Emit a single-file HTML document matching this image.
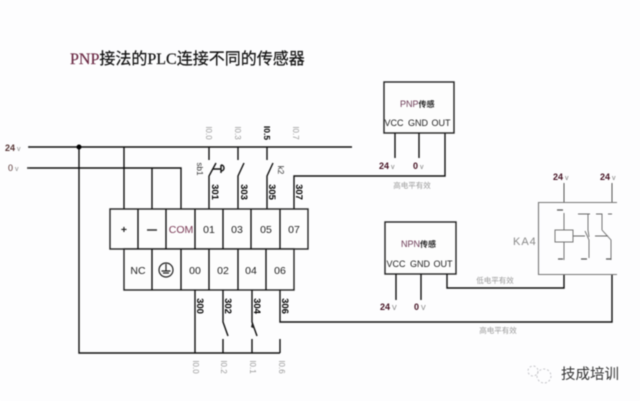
<!DOCTYPE html>
<html>
<head>
<meta charset="utf-8">
<style>
html,body{margin:0;padding:0;background:#fdfdfe;width:640px;height:401px;overflow:hidden}
svg{display:block;filter:blur(.5px)}
text{font-family:"Liberation Sans","Noto Sans CJK SC",sans-serif}
.l{stroke:#111;stroke-width:1.4;fill:none}
.b{stroke:#222;stroke-width:1.4;fill:#fdfdfd}
.t{font-size:10.5px;fill:#222;text-anchor:middle}
.w{font-size:9.5px;font-weight:bold;fill:#000;text-anchor:middle}
.io{font-size:8px;fill:#999;text-anchor:middle}
.s{font-size:9px;fill:#222;text-anchor:middle}
.v{font-size:9px;font-weight:bold;fill:#412}
.n{font-size:7.5px;fill:#999;text-anchor:middle}
</style>
</head>
<body>
<svg width="640" height="401" viewBox="0 0 640 401" xmlns="http://www.w3.org/2000/svg">
<rect width="640" height="401" fill="#fdfdfe"/>

<text x="70" y="64" font-size="16" fill="#111" stroke="#111" stroke-width=".2" style="font-family:'Liberation Serif','Noto Sans CJK SC',serif"><tspan fill="#6b2a45" stroke="#6b2a45">PNP</tspan>接法的PLC连接不同的传感器</text>

<!-- power rails -->
<path class="l" d="M29 147H352M29 168H181V209M79 147V353H280M124 147V209M152 168V209"/>
<circle cx="79" cy="147" r="2.500" fill="#000"/>
<circle cx="29" cy="147" r="1" fill="#333"/>
<circle cx="28" cy="168" r="1" fill="#333"/>
<text x="5" y="151" font-size="9" font-weight="bold" fill="#533">24<tspan font-weight="normal" fill="#888" font-size="7"> v</tspan></text>
<text x="8" y="171" font-size="9" fill="#533">0<tspan fill="#888" font-size="7"> v</tspan></text>

<!-- upper wires and switches -->
<path class="l" d="M209 147V160M209 209V176L216 163M238 147V160M238 209V176L244 163M267 147V160M267 209V176L273 163M294 209V176H445V133"/>
<path class="l" d="M213 169H221M221 165V173" stroke-width="1"/>
<path class="l" d="M221 165C225 165 225 171 221 171" stroke-width="1"/>

<!-- terminals -->
<g class="b">
<rect x="110" y="209" width="198" height="40"/>
<rect x="124" y="249" width="170" height="41"/>
</g>
<path class="l" d="M138 209V249M166 209V249M195 209V249M223 209V249M251 209V249M280 209V249M152 249V290M181 249V290M209 249V290M238 249V290M266 249V290" stroke="#333"/>
<text class="t" x="124" y="233" font-weight="bold">+</text>
<path d="M147 230H157" stroke="#333" stroke-width="1.5"/>
<text class="t" x="181" y="233" style="fill:#7a3a55">COM</text>
<text class="t" x="209" y="233">01</text>
<text class="t" x="237" y="233">03</text>
<text class="t" x="266" y="233">05</text>
<text class="t" x="294" y="233">07</text>
<text class="t" x="138" y="274">NC</text>
<circle cx="166" cy="270" r="7" fill="none" stroke="#222" stroke-width="1.2"/>
<path d="M166 264V271M161.500 271H170.500M163 273H169" stroke="#222" stroke-width="1.2"/>
<text class="t" x="195" y="274">00</text>
<text class="t" x="223" y="274">02</text>
<text class="t" x="251" y="274">04</text>
<text class="t" x="280" y="274">06</text>

<!-- lower wires -->
<path class="l" d="M195 290V353M223 290V322L228 336M223 339V353M252 290V322L257 336M252 339V353M280 290V322H612V274M280 339V353"/>
<path d="M252 323L255 329L251 327Z" fill="#222"/>

<!-- wire numbers -->
<text class="w" transform="translate(212,192) rotate(90)">301</text>
<text class="w" transform="translate(241,192) rotate(90)">303</text>
<text class="w" transform="translate(269,192) rotate(90)">305</text>
<text class="w" transform="translate(296,192) rotate(90)">307</text>
<text class="w" transform="translate(197,306) rotate(90)">300</text>
<text class="w" transform="translate(225,306) rotate(90)">302</text>
<text class="w" transform="translate(254,306) rotate(90)">304</text>
<text class="w" transform="translate(282,306) rotate(90)">306</text>

<text class="io" transform="translate(206,133) rotate(90)">I0.0</text>
<text class="io" transform="translate(235,133) rotate(90)">I0.3</text>
<text class="w" style="font-size:8.500px" transform="translate(264,133) rotate(90)">I0.5</text>
<text class="io" transform="translate(293,133) rotate(90)">I0.7</text>
<text class="io" transform="translate(193,367) rotate(90)">I0.0</text>
<text class="io" transform="translate(221,367) rotate(90)">I0.2</text>
<text class="io" transform="translate(250,367) rotate(90)">I0.1</text>
<text class="io" transform="translate(279,367) rotate(90)">I0.6</text>
<text class="io" style="fill:#333" transform="translate(197,169) rotate(90)">sb1</text>
<text class="io" style="fill:#333" transform="translate(278,170) rotate(90)">k2</text>

<!-- PNP sensor -->
<rect class="b" x="384" y="82" width="70" height="51"/>
<path class="l" d="M395 133V158M419 133V158"/>
<text x="400" y="107" font-size="9" fill="#6b3a55">PNP<tspan font-size="8" font-weight="bold" fill="#222">传感</tspan></text>
<text class="s" x="394" y="126">VCC</text>
<text class="s" x="418" y="126">GND</text>
<text class="s" x="441" y="126">OUT</text>
<text class="v" x="379" y="169">24<tspan font-weight="normal" font-size="7" fill="#777"> v</tspan></text>
<text class="v" x="413" y="169">0<tspan font-weight="normal" font-size="7" fill="#777"> v</tspan></text>
<text class="n" x="412" y="188">高电平有效</text>

<!-- NPN sensor -->
<rect class="b" x="385" y="222" width="71" height="52"/>
<path class="l" d="M396 274V300M421 274V300M447 274V288H564V274"/>
<text x="401" y="247" font-size="9" fill="#6b3a55">NPN<tspan font-size="8" font-weight="bold" fill="#222">传感</tspan></text>
<text class="s" x="396" y="267">VCC</text>
<text class="s" x="420" y="267">GND</text>
<text class="s" x="443" y="267">OUT</text>
<text class="v" x="380" y="310">24<tspan font-weight="normal" font-size="7" fill="#777"> V</tspan></text>
<text class="v" x="414" y="310">0<tspan font-weight="normal" font-size="7" fill="#777"> V</tspan></text>
<text class="n" x="495" y="283">低电平有效</text>
<text class="n" x="498" y="333">高电平有效</text>

<!-- relay -->
<path d="M617 202.500H538.500V274.500H617" fill="none" stroke="#777" stroke-width="1.1"/>
<path d="M564 183V202M612 183V202" stroke="#555" stroke-width="1"/>
<text x="513" y="245" font-size="11" fill="#888" letter-spacing="1">KA4</text>
<text class="v" x="553" y="180">24<tspan font-weight="normal" font-size="7" fill="#777"> v</tspan></text>
<text class="v" x="600" y="180">24<tspan font-weight="normal" font-size="7" fill="#777"> v</tspan></text>
<rect x="555" y="230" width="18" height="12" fill="none" stroke="#777" stroke-width="1"/>
<path d="M564 213V230M564 242V260" stroke="#666" stroke-width=".9"/>
<path d="M578 214H588V230L588 230L589 237M573 236H585M585 231L589 240V258M586 214H590" fill="none" stroke="#666" stroke-width=".9"/>
<path d="M596 214H602V230M595 236H608M602 230L611 240V260M608 214H612" fill="none" stroke="#666" stroke-width=".9"/>
<path d="M558 259H563M581 259H587M606 259H611M557 210H563" stroke="#555" stroke-width="1.2"/>

<!-- watermark -->
<g fill="none" stroke="#c4c4c8" stroke-width="1" stroke-dasharray="2 2">
<circle cx="544" cy="376" r="7"/>
<circle cx="533" cy="371" r="5"/>
</g>
<text x="561" y="379" font-size="14.500" fill="#333">技成培训</text>
</svg>
</body>
</html>
